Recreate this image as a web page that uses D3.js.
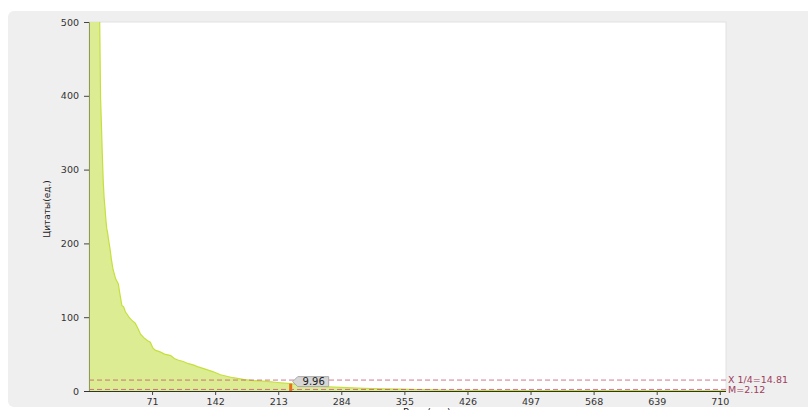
<!DOCTYPE html>
<meta charset="utf-8">
<style>
  body { margin: 0; background: #fff; }
  text { font-family: "DejaVu Sans", Verdana, sans-serif; }
</style>
<body>
<script src="https://d3js.org/d3.v7.min.js"></script>
<script>

var width = 808,
    height = 410;

// rank -> citations (values above 500 are clipped)
var ranks = [1, 2, 3, 4, 5, 6, 7, 8, 9, 10, 11, 12, 13, 14, 15, 16, 17, 18, 19, 20,
  21, 22, 24, 25, 27, 30, 33, 35, 37, 39, 41, 43, 45, 48, 52, 55, 58, 62, 66, 69,
  72, 75, 80, 85, 92, 96, 100, 106, 112, 118, 122, 130, 140, 148, 155, 162, 167, 175,
  185, 200, 212, 227, 240, 255, 270, 290, 310, 330, 350, 370, 390, 405, 420, 450, 500, 600, 717];
var cites = [2100, 1500, 1200, 1000, 880, 780, 700, 640, 590, 550, 520, 505, 398, 360, 320, 285, 262, 248, 232, 220,
  214, 205, 190, 180, 165, 152, 145, 130, 116, 114, 107, 104, 100, 96, 92, 85, 77, 72, 68, 66,
  58, 55, 53, 50, 48, 44, 42, 40, 37, 35, 33, 30, 26, 22, 20, 18, 17, 15.5,
  14, 13, 11.5, 9.96, 8, 6.5, 5.5, 4.5, 3.5, 3, 2.5, 2, 1.5, 1, 1, 0.8, 0.6, 0.4, 0.3];

var xTicks = [71, 142, 213, 284, 355, 426, 497, 568, 639, 710];
var yTicks = [0, 100, 200, 300, 400, 500];

var marks = [{name: "X 1/4", value: 14.81}, {name: "M", value: 2.12}];
var highlightRank = 227, highlightValue = 9.96;

var data = ranks.map(function(r, i) { return {r: r, v: cites[i]}; });

var svg = d3.select("body").append("svg")
    .attr("width", width)
    .attr("height", height);

var pLeft = 89, pRight = 726, pTop = 22, pBottom = 391;

var x = d3.scaleLinear().domain([0, 717]).range([pLeft, pRight]);
var y = d3.scaleLinear().domain([0, 500]).range([pBottom, pTop]);

// panel + plot background
svg.append("rect")
    .attr("x", 8).attr("y", 11).attr("width", 840).attr("height", 396)
    .attr("rx", 6).attr("fill", "#efefef");
svg.append("rect")
    .attr("x", pLeft).attr("y", pTop).attr("width", pRight - pLeft).attr("height", pBottom - pTop)
    .attr("fill", "#fff").attr("stroke", "#e2e2e2");

svg.append("clipPath").attr("id", "plot")
  .append("rect")
    .attr("x", pLeft).attr("y", pTop).attr("width", pRight - pLeft).attr("height", pBottom - pTop);

var area = d3.area()
    .x(function(d) { return x(d.r); })
    .y0(y(0))
    .y1(function(d) { return y(d.v); });

var line = d3.line()
    .x(function(d) { return x(d.r); })
    .y(function(d) { return y(d.v); });

var g = svg.append("g").attr("clip-path", "url(#plot)");

g.append("path")
    .datum(data)
    .attr("fill", "#dcec92")
    .attr("d", area);

g.append("path")
    .datum(data)
    .attr("fill", "none")
    .attr("stroke", "#c5e03c")
    .attr("stroke-width", 1.2)
    .attr("d", line);

// quartile / median lines
marks.forEach(function(m) {
  svg.append("line")
      .attr("x1", pLeft).attr("x2", pRight)
      .attr("y1", y(m.value)).attr("y2", y(m.value))
      .attr("stroke", "#c84a68")
      .attr("stroke-opacity", 0.75)
      .attr("stroke-dasharray", "5,3");
  svg.append("text")
      .attr("x", pRight + 2)
      .attr("y", y(m.value))
      .attr("dy", "0.35em")
      .attr("font-size", "9.5px")
      .attr("fill", "#a0405c")
      .text(m.name + "=" + m.value);
});

// highlighted paper
svg.append("rect")
    .attr("x", x(highlightRank) - 1.5)
    .attr("y", y(highlightValue))
    .attr("width", 3)
    .attr("height", y(0) - y(highlightValue))
    .attr("fill", "#e8701c");

var bx = x(highlightRank) + 2, by = y(highlightValue) - 2;
svg.append("path")
    .attr("d", "M" + bx + "," + by + " l5,-5 h31 v10 h-31 z")
    .attr("fill", "#d6d6d6")
    .attr("stroke", "#a8a8a8");
svg.append("text")
    .attr("x", bx + 21).attr("y", by)
    .attr("dy", "0.35em")
    .attr("text-anchor", "middle")
    .attr("font-size", "10px")
    .attr("fill", "#222")
    .text(highlightValue);

// axes
var yAxis = svg.append("g")
    .attr("transform", "translate(" + pLeft + ",0)")
    .call(d3.axisLeft(y).tickValues(yTicks).tickSize(5).tickPadding(5));
yAxis.select(".domain").attr("stroke", "#8f9a55");
yAxis.selectAll(".tick line").attr("stroke", "#444");
yAxis.selectAll("text").attr("font-size", "9.5px").attr("fill", "#333")
    .attr("font-family", "DejaVu Sans, sans-serif");

var xAxis = svg.append("g")
    .attr("transform", "translate(0," + pBottom + ")")
    .call(d3.axisBottom(x).tickValues(xTicks).tickSize(4).tickPadding(3).tickSizeOuter(0));
xAxis.select(".domain").attr("stroke", "#333").attr("d", "M" + (pLeft - 5) + ",0.5H" + pRight);
xAxis.selectAll(".tick line").attr("stroke", "#444");
xAxis.selectAll("text").attr("font-size", "9.5px").attr("fill", "#333")
    .attr("font-family", "DejaVu Sans, sans-serif");

// axis titles
svg.append("text")
    .attr("transform", "translate(50,209) rotate(-90)")
    .attr("text-anchor", "middle")
    .attr("font-size", "9px")
    .attr("fill", "#222")
    .text("Цитаты(ед.)");

svg.append("text")
    .attr("x", 427).attr("y", 416)
    .attr("text-anchor", "middle")
    .attr("font-size", "10px")
    .attr("fill", "#222")
    .text("Ранг(ед.)");

</script>
</body>
